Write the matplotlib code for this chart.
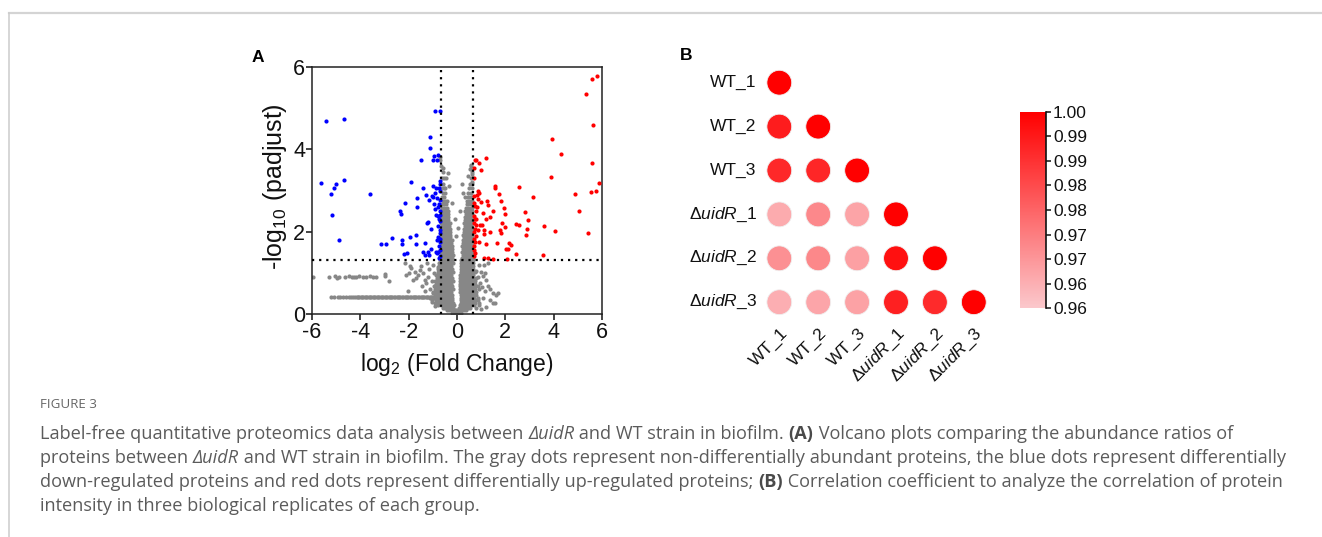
import matplotlib
matplotlib.use('Agg')
import matplotlib.pyplot as plt
from matplotlib.colors import LinearSegmentedColormap, Normalize
from matplotlib.cm import ScalarMappable
from matplotlib.lines import Line2D

plt.rcParams['font.family'] = ['Liberation Sans', 'DejaVu Sans']
plt.rcParams['axes.unicode_minus'] = False
plt.rcParams['mathtext.fontset'] = 'custom'
plt.rcParams['mathtext.rm'] = 'Liberation Sans'
plt.rcParams['mathtext.it'] = 'Liberation Sans:italic'
plt.rcParams['mathtext.bf'] = 'Liberation Sans:bold'

# ---------------- Panel A data (volcano) ----------------
fc_cut = 0.68
p_cut = 1.3
x_ticks_a = [-6, -4, -2, 0, 2, 4, 6]
y_ticks_a = [0, 2, 4, 6]

down_x = [-5.42, -4.69, -5.63, -4.69, -4.99, -5.11, -5.22, -5.19, -4.89, -3.62, -3.14, -2.93,
          -2.67, -2.35, -2.30, -2.17, -2.28, -2.28, -2.20, -2.05, -1.94, -1.90, -1.69, -1.68,
          -1.65, -1.64, -1.51, -1.40, -1.41, -1.32, -1.28, -1.34, -1.25, -1.18, -1.15, -1.13,
          -1.13, -1.07, -1.04, -1.00, -0.99, -0.95, -0.96, -0.92, -0.90, -0.88, -0.86, -0.82,
          -0.81, -0.78, -0.71, -0.70, -0.77, -0.71, -0.79, -0.77, -0.70, -0.82, -0.70, -0.74,
          -0.77, -0.71, -0.73, -0.84, -0.69, -0.70, -0.72, -0.70, -0.70, -0.70, -0.70, -0.99,
          -1.06, -1.18, -1.17, -0.74, -0.76, -0.73, -0.75, -0.72, -0.78, -0.85, -0.91]
down_y = [4.70, 4.73, 3.18, 3.26, 3.15, 3.06, 2.91, 2.40, 1.79, 2.91, 1.71, 1.70,
          1.84, 2.51, 2.43, 2.69, 1.80, 1.70, 1.46, 1.48, 1.88, 3.21, 1.92, 1.71,
          2.60, 2.82, 3.73, 3.05, 1.50, 1.72, 2.90, 1.44, 2.22, 2.24, 2.77, 4.29,
          4.03, 2.07, 2.87, 2.85, 3.73, 3.83, 2.68, 4.92, 2.55, 1.50, 3.06, 3.75,
          2.82, 3.86, 4.92, 3.22, 2.61, 2.41, 2.37, 2.13, 1.96, 1.80, 1.82, 1.64,
          1.50, 1.40, 1.36, 1.48, 3.16, 2.98, 2.77, 2.49, 2.25, 2.04, 1.76, 3.10,
          1.58, 1.50, 1.44, 1.82, 2.30, 2.67, 3.05, 1.55, 1.86, 2.40, 2.95]

up_x = [5.78, 5.59, 5.34, 5.62, 3.95, 4.32, 3.89, 5.60, 5.88, 5.55, 5.77, 4.89, 5.03, 5.41,
        4.07, 3.59, 3.56, 3.15, 2.92, 2.89, 2.85, 2.81, 2.57, 2.56, 2.46, 2.46, 2.24, 2.17,
        2.12, 2.04, 2.05, 1.98, 1.98, 1.93, 1.86, 1.73, 1.84, 1.79, 1.83, 1.66, 1.58, 1.57,
        1.50, 1.35, 1.36, 1.29, 1.24, 1.22, 1.18, 1.21, 1.13, 1.13, 1.07, 0.99, 0.92, 0.99,
        0.93, 0.86, 0.96, 1.02, 0.80, 0.74, 0.71, 0.71, 1.50, 1.29, 1.11, 0.71, 0.74, 0.77,
        0.70, 0.75, 0.70, 0.80, 0.73, 0.71, 0.77, 0.70, 0.73, 0.69, 0.72, 0.76, 0.70, 0.82,
        0.88, 0.84, 0.72, 0.78, 0.85, 0.90]
up_y = [5.78, 5.71, 5.35, 4.60, 4.26, 3.88, 3.32, 3.68, 3.18, 2.97, 2.98, 2.91, 2.51, 1.97,
        2.01, 2.14, 1.44, 2.85, 2.29, 2.07, 1.91, 2.47, 3.08, 2.17, 2.19, 1.46, 1.67, 1.72,
        1.59, 1.58, 1.33, 2.11, 2.42, 2.58, 2.22, 2.92, 2.74, 2.04, 1.96, 1.72, 3.10, 3.05,
        2.51, 2.35, 2.00, 2.64, 2.74, 1.70, 3.78, 2.31, 1.95, 2.03, 2.46, 2.72, 3.67, 3.50,
        2.94, 2.99, 2.15, 2.17, 3.74, 3.73, 3.54, 3.30, 1.33, 1.35, 1.37, 2.70, 2.62, 2.50,
        2.38, 2.30, 2.22, 2.15, 2.06, 1.98, 1.90, 1.82, 1.74, 1.66, 1.55, 1.47, 1.40, 2.88,
        2.80, 2.60, 2.87, 2.30, 2.05, 1.75]

# non-significant proteins, V-shaped core read row by row (y level, x positions)
gray_row_y = [0.03, 0.09, 0.15, 0.21, 0.27, 0.33, 0.39, 0.46, 0.53, 0.60, 0.67, 0.74, 0.81, 0.88,
              0.95, 1.02, 1.09, 1.16, 1.23, 1.30, 1.37, 1.44, 1.51, 1.58, 1.65, 1.72, 1.79, 1.86,
              1.93, 2.00, 2.07, 2.14, 2.21, 2.28, 2.35, 2.42, 2.50, 2.58, 2.66, 2.75, 2.85, 2.95,
              3.05, 3.17, 3.30, 3.45, 3.60, 3.75]
gray_row_x = [
    [-0.2, -0.13, -0.07, 0.0, 0.06, 0.12, 0.18],
    [-0.42, -0.34, -0.26, -0.18, -0.1, -0.03, 0.05, 0.12, 0.2, 0.28, 0.36],
    [-0.6, -0.5, -0.41, -0.32, -0.23, -0.15, 0.1, 0.18, 0.27, 0.36, 0.45, 0.55],
    [-0.78, -0.66, -0.56, -0.47, -0.38, -0.29, -0.2, -0.12, 0.13, 0.22, 0.31, 0.4, 0.5, 0.6, 0.72],
    [-0.92, -0.8, -0.7, -0.6, -0.5, -0.41, -0.32, -0.23, -0.15, 0.15, 0.24, 0.33, 0.43, 0.53, 0.63,
     0.75, 0.9],
    [-1.05, -0.88, -0.76, -0.66, -0.56, -0.46, -0.37, -0.28, -0.19, 0.16, 0.25, 0.35, 0.45, 0.55,
     0.66, 0.78],
    [-0.95, -0.82, -0.7, -0.6, -0.5, -0.4, -0.31, -0.22, 0.17, 0.27, 0.37, 0.47, 0.58, 0.7, 0.85],
    [-0.9, -0.78, -0.67, -0.57, -0.47, -0.37, -0.28, -0.19, 0.15, 0.25, 0.35, 0.45, 0.56, 0.68, 0.8],
    [-1.0, -0.86, -0.74, -0.63, -0.53, -0.43, -0.33, -0.23, 0.14, 0.24, 0.34, 0.44, 0.55, 0.66, 0.78],
    [-0.9, -0.78, -0.67, -0.57, -0.47, -0.37, -0.27, -0.18, 0.13, 0.23, 0.33, 0.43, 0.54, 0.65, 0.76],
    [-0.95, -0.82, -0.7, -0.6, -0.5, -0.4, -0.3, -0.2, 0.13, 0.23, 0.33, 0.43, 0.53, 0.64, 0.75, 0.88],
    [-0.86, -0.75, -0.64, -0.54, -0.44, -0.34, -0.24, 0.12, 0.22, 0.32, 0.42, 0.52, 0.63, 0.74],
    [-0.9, -0.78, -0.67, -0.57, -0.47, -0.37, -0.27, -0.18, 0.13, 0.23, 0.33, 0.43, 0.53, 0.64, 0.76],
    [-0.82, -0.71, -0.61, -0.51, -0.41, -0.31, -0.21, 0.14, 0.24, 0.34, 0.44, 0.54, 0.65, 0.78],
    [-0.86, -0.74, -0.63, -0.53, -0.43, -0.33, -0.23, 0.14, 0.24, 0.34, 0.44, 0.55, 0.66],
    [-0.78, -0.67, -0.57, -0.47, -0.37, -0.27, -0.18, 0.15, 0.25, 0.35, 0.45, 0.55, 0.66, 0.76],
    [-0.8, -0.69, -0.58, -0.48, -0.38, -0.28, -0.19, 0.16, 0.26, 0.36, 0.46, 0.56, 0.66],
    [-0.74, -0.63, -0.53, -0.43, -0.33, -0.23, 0.16, 0.26, 0.36, 0.46, 0.56, 0.67],
    [-0.76, -0.65, -0.54, -0.44, -0.34, -0.24, -0.16, 0.17, 0.27, 0.37, 0.47, 0.57, 0.67],
    [-0.7, -0.6, -0.5, -0.4, -0.3, -0.21, 0.18, 0.28, 0.38, 0.48, 0.58, 0.67],
    [-0.66, -0.57, -0.48, -0.39, -0.3, -0.21, 0.2, 0.29, 0.38, 0.47, 0.56, 0.65],
    [-0.62, -0.53, -0.44, -0.35, -0.26, -0.18, 0.24, 0.33, 0.42, 0.51, 0.6],
    [-0.66, -0.57, -0.48, -0.39, -0.3, -0.21, 0.21, 0.3, 0.39, 0.48, 0.57, 0.66],
    [-0.63, -0.54, -0.45, -0.36, -0.27, -0.19, 0.25, 0.34, 0.43, 0.52, 0.61],
    [-0.66, -0.57, -0.48, -0.39, -0.3, -0.22, 0.22, 0.31, 0.4, 0.49, 0.58, 0.66],
    [-0.62, -0.53, -0.44, -0.35, -0.26, 0.26, 0.35, 0.44, 0.53, 0.62],
    [-0.66, -0.57, -0.48, -0.39, -0.3, -0.22, 0.23, 0.32, 0.41, 0.5, 0.59, 0.66],
    [-0.62, -0.53, -0.44, -0.35, -0.27, 0.27, 0.36, 0.45, 0.54, 0.63],
    [-0.66, -0.57, -0.48, -0.39, -0.3, 0.25, 0.34, 0.43, 0.52, 0.61],
    [-0.62, -0.53, -0.44, -0.35, -0.27, 0.28, 0.37, 0.46, 0.55, 0.64],
    [-0.66, -0.57, -0.48, -0.39, -0.31, 0.3, 0.39, 0.48, 0.57, 0.66],
    [-0.62, -0.53, -0.44, -0.35, 0.32, 0.41, 0.5, 0.59],
    [-0.66, -0.57, -0.48, -0.39, -0.31, 0.3, 0.39, 0.48, 0.57, 0.65],
    [-0.62, -0.53, -0.44, -0.36, 0.34, 0.43, 0.52, 0.61],
    [-0.66, -0.57, -0.48, -0.39, 0.33, 0.42, 0.51, 0.6],
    [-0.62, -0.53, -0.44, -0.36, 0.36, 0.45, 0.54, 0.63],
    [-0.65, -0.56, -0.47, -0.39, 0.35, 0.44, 0.53, 0.62],
    [-0.61, -0.52, -0.43, 0.38, 0.47, 0.56, 0.64],
    [-0.64, -0.55, -0.46, 0.4, 0.49, 0.58],
    [-0.6, -0.51, -0.42, 0.42, 0.51, 0.6],
    [-0.63, -0.54, 0.45, 0.55, 0.63],
    [-0.6, -0.5, 0.47, 0.57],
    [-0.64, -0.55, 0.5, 0.6],
    [-0.6, 0.53, 0.62],
    [-0.63, -0.52, 0.56],
    [-0.6, 0.6],
    [-0.66, 0.58],
    [-0.7],
]
# proteins sharing the same padjust (flat line)
gray_flat_y = 0.42
gray_flat_x = [-5.2, -5.08, -4.93, -4.85, -4.72, -4.6, -4.48, -4.4, -4.3, -4.22, -4.15, -4.1,
               -4.04, -3.99, -3.93, -3.88, -3.82, -3.77, -3.71, -3.66, -3.6, -3.55, -3.49,
               -3.44, -3.38, -3.33, -3.27, -3.22, -3.16, -3.11, -3.05, -3.0, -2.94, -2.89,
               -2.83, -2.78, -2.72, -2.67, -2.61, -2.56, -2.5, -2.45, -2.39, -2.34, -2.28,
               -2.23, -2.17, -2.12, -2.06, -2.01, -1.95, -1.9, -1.84, -1.79, -1.73, -1.68,
               -1.62, -1.57, -1.51, -1.46, -1.4, -1.35, -1.29, -1.24, -1.18, -1.13, -1.07,
               -1.02, -0.96, -0.91, -0.85]
gray_band_x = [-5.94, -5.31, -5.05, -4.98, -4.90, -4.62, -4.46, -4.36, -4.25, -4.16, -4.05,
               -3.91, -3.76, -3.60, -3.46, -3.35, -2.97, -2.83]
gray_band_y = [0.90, 0.89, 0.92, 0.88, 0.91, 0.90, 0.92, 0.89, 0.91, 0.90, 0.92,
               0.90, 0.91, 0.92, 0.90, 0.91, 0.92, 0.79]
gray_other_x = [-2.99, -2.12, -1.99, -1.89, -1.96, -2.16, -1.82, -1.75, -1.68, -1.61, -1.55,
                -1.48, -1.41, -1.34, -1.44, -1.34, -1.27, -1.20, -1.15, -1.10, -1.05, -1.00,
                -2.03, -1.25, -1.12, -1.05, -0.98, -0.95, -0.90, -0.85, -0.80,
                0.93, 1.00, 1.07, 1.14, 1.21, 1.28, 1.35, 1.49, 1.62, 1.69, 1.49, 1.35, 1.21,
                0.93, 1.07, 0.90, 0.85, 1.10, 1.30, 0.80, 1.00, 1.57, 0.95, 1.15, 0.78, 0.88,
                1.05,
                -0.72, -0.6, -0.45, -0.37, -0.5, 0.45, 0.52, 0.58, 0.62, 0.19, 0.25, -0.2, 0.12,
                -0.1, 0.6, 0.35, -0.35, -0.05, 0.05]
gray_other_y = [0.97, 0.95, 0.99, 1.11, 1.17, 1.23, 0.83, 1.03, 0.88, 0.95, 1.07,
                1.16, 1.00, 0.83, 0.67, 0.55, 0.75, 0.90, 1.10, 0.60, 0.80, 1.20,
                0.57, 1.25, 0.38, 0.28, 0.50, 1.00, 0.20, 0.70, 1.15,
                1.19, 1.03, 0.93, 0.99, 0.83, 0.68, 0.60, 0.51, 0.47, 0.51, 0.26, 0.35, 0.18,
                0.22, 0.40, 0.60, 0.90, 1.20, 1.25, 0.15, 0.12, 0.26, 0.75, 0.55, 1.05, 0.35,
                0.65,
                3.82, 3.55, 3.30, 3.43, 3.05, 3.35, 3.52, 3.62, 3.40, 3.15, 2.95, 2.70, 2.50,
                2.30, 3.20, 2.85, 3.10, 1.90, 2.10]

# ---------------- Panel B data (correlation) ----------------
samples = ['WT_1', 'WT_2', 'WT_3', 'ΔuidR_1', 'ΔuidR_2', 'ΔuidR_3']
corr_rows = [
    [1.000],
    [0.9943, 1.000],
    [0.9920, 0.9923, 1.000],
    [0.9659, 0.9727, 0.9672, 1.000],
    [0.9711, 0.9729, 0.9680, 0.9968, 1.000],
    [0.9653, 0.9669, 0.9677, 0.9935, 0.9915, 1.000],
]
cbar_ticks = [0.96, 0.965, 0.97, 0.975, 0.98, 0.985, 0.99, 0.995, 1.00]
cbar_ticklabels = ['0.96', '0.96', '0.97', '0.97', '0.98', '0.98', '0.99', '0.99', '1.00']
cbar_min, cbar_max = 0.96, 1.00

# ---------------- Caption ----------------
caption_title = 'FIGURE 3'
caption_lines = [
    [('Label-free quantitative proteomics data analysis between ', 'n'), ('ΔuidR', 'i'),
     (' and WT strain in biofilm. ', 'n'), ('(A)', 'b'),
     (' Volcano plots comparing the abundance ratios of', 'n')],
    [('proteins between ', 'n'), ('ΔuidR', 'i'),
     (' and WT strain in biofilm. The gray dots represent non-differentially abundant proteins, '
      'the blue dots represent differentially', 'n')],
    [('down-regulated proteins and red dots represent differentially up-regulated proteins; ', 'n'),
     ('(B)', 'b'), (' Correlation coefficient to analyze the correlation of protein', 'n')],
    [('intensity in three biological replicates of each group.', 'n')],
]

# ======================================================================
W, H = 1322, 537
fig = plt.figure(figsize=(W / 100, H / 100), dpi=100)
fig.patch.set_facecolor('white')


def fx(x):
    return x / W


def fy(y):
    return 1 - y / H


# page frame lines
fig.add_artist(Line2D([fx(9), 1.0], [fy(13), fy(13)], color='#d4d4d4', lw=1.6))
fig.add_artist(Line2D([fx(9), fx(9)], [fy(13), 0.0], color='#cccccc', lw=1.1))

# ---------------- Panel A ----------------
axA = fig.add_axes([fx(312), fy(314), (602 - 312) / W, (314 - 67) / H])
gx, gy = [], []
for yv, xs in zip(gray_row_y, gray_row_x):
    gx += xs
    gy += [yv] * len(xs)
gx += gray_flat_x
gy += [gray_flat_y] * len(gray_flat_x)
gx += gray_band_x
gy += gray_band_y
gx += gray_other_x
gy += gray_other_y
axA.scatter(gx, gy, s=9, c='#878787', linewidths=0, zorder=2)
axA.scatter(down_x, down_y, s=9, c='#0000ff', linewidths=0, zorder=3)
axA.scatter(up_x, up_y, s=9, c='#ff0000', linewidths=0, zorder=3)
for v in (-fc_cut, fc_cut):
    axA.axvline(v, color='black', lw=1.6, ls=(0, (1, 2.2)), zorder=4)
axA.axhline(p_cut, color='black', lw=1.6, ls=(0, (1, 2.2)), zorder=4)
axA.set_xlim(-6, 6)
axA.set_ylim(0, 6)
axA.set_xticks(x_ticks_a)
axA.set_yticks(y_ticks_a)
axA.tick_params(direction='out', length=4, width=1.1, labelsize=15.5, pad=2, colors='#111111')
axA.tick_params(axis='y', pad=1)
for sp in axA.spines.values():
    sp.set_linewidth(1.1)
    sp.set_color('#222222')

fig.text(fx(275), fy(187), r'-log$_{10}$ (padjust)', rotation=90, ha='center', va='center',
         fontsize=18, color='#111111')
fig.text(fx(457), fy(364), r'log$_2$ (Fold Change)', ha='center', va='center',
         fontsize=16.5, color='#111111')
fig.text(fx(258), fy(57), 'A', ha='center', va='center', fontsize=12.5, fontweight='bold')
fig.text(fx(686), fy(56), 'B', ha='center', va='center', fontsize=12.5, fontweight='bold')

# ---------------- Panel B ----------------
cmap = LinearSegmentedColormap.from_list('corr', ['#fbc8cc', '#ff0000'])
norm = Normalize(vmin=cbar_min, vmax=cbar_max)
col_step, row_step = 38.9, 43.9
x0, y0 = 779.3, 82.7
axB = fig.add_axes([fx(x0 - col_step / 2), fy(y0 + 5.5 * row_step),
                    6 * col_step / W, 6 * row_step / H])
cx, cy, cv = [], [], []
for i, row in enumerate(corr_rows):
    for j, v in enumerate(row):
        cx.append(j)
        cy.append(i)
        cv.append(v)
axB.scatter(cx, cy, c=cv, cmap=cmap, norm=norm, s=320, linewidths=0.6,
            edgecolors='#f0f0f0', zorder=3)
axB.set_xlim(-0.5, 5.5)
axB.set_ylim(5.5, -0.5)
axB.axis('off')


def label_text(s):
    if s.startswith('Δ'):
        base, num = s.split('_')
        return r'$\mathit{' + base + '}$_' + num
    return s


for i, s in enumerate(samples):
    axB.text(-0.58, i, label_text(s), ha='right', va='center', fontsize=12.5, color='#111111')
    axB.text(i + 0.16, 5.66, label_text(s), ha='right', va='center', rotation=45,
             rotation_mode='anchor', fontsize=12.5, color='#111111')

cax = fig.add_axes([fx(1020), fy(308.3), 26 / W, (308.3 - 111.7) / H])
cb = fig.colorbar(ScalarMappable(norm=norm, cmap=cmap), cax=cax)
cb.outline.set_visible(False)
cb.set_ticks(cbar_ticks)
cb.set_ticklabels(cbar_ticklabels)
cax.tick_params(direction='out', length=3.5, width=1.1, labelsize=12.5, pad=1.5, colors='#111111')
cax.plot([1, 1], [cbar_min, cbar_max], color='#111111', lw=1.2, clip_on=False)
cax.set_xlim(0, 1)
cax.set_ylim(cbar_min, cbar_max)

# ---------------- Caption ----------------
renderer = fig.canvas.get_renderer()
cap_font = ['Open Sans', 'DejaVu Sans']
cap_color = '#5b5b5b'


def style_kw(st, size):
    kw = dict(fontsize=size, family=cap_font, color=cap_color)
    if st == 'i':
        kw['fontstyle'] = 'italic'
    if st == 'b':
        kw['fontweight'] = 'bold'
        kw['color'] = '#4a4a4a'
    return kw


def seg_width(s, kw):
    t = fig.text(0, 0, '|' + s + '|', **kw)
    w1 = t.get_window_extent(renderer).width
    t.remove()
    t = fig.text(0, 0, '||', **kw)
    w2 = t.get_window_extent(renderer).width
    t.remove()
    return w1 - w2


# choose size so that the second caption line spans ~1250 px
ref_size = 11.0
w_ref = sum(seg_width(s, style_kw(st, ref_size)) for s, st in caption_lines[1])
cap_size = ref_size * 1250.0 / w_ref

fig.text(fx(40), fy(405), caption_title, ha='left', va='center', fontsize=9.6,
         family=cap_font, color='#666666')
line_y = [434, 458, 482, 506]
for ly, segs in zip(line_y, caption_lines):
    x = 40.0
    for s, st in segs:
        kw = style_kw(st, cap_size)
        fig.text(fx(x), fy(ly), s, ha='left', va='center', **kw)
        x += seg_width(s, kw)

fig.savefig('out.png', dpi=100, facecolor='white')
